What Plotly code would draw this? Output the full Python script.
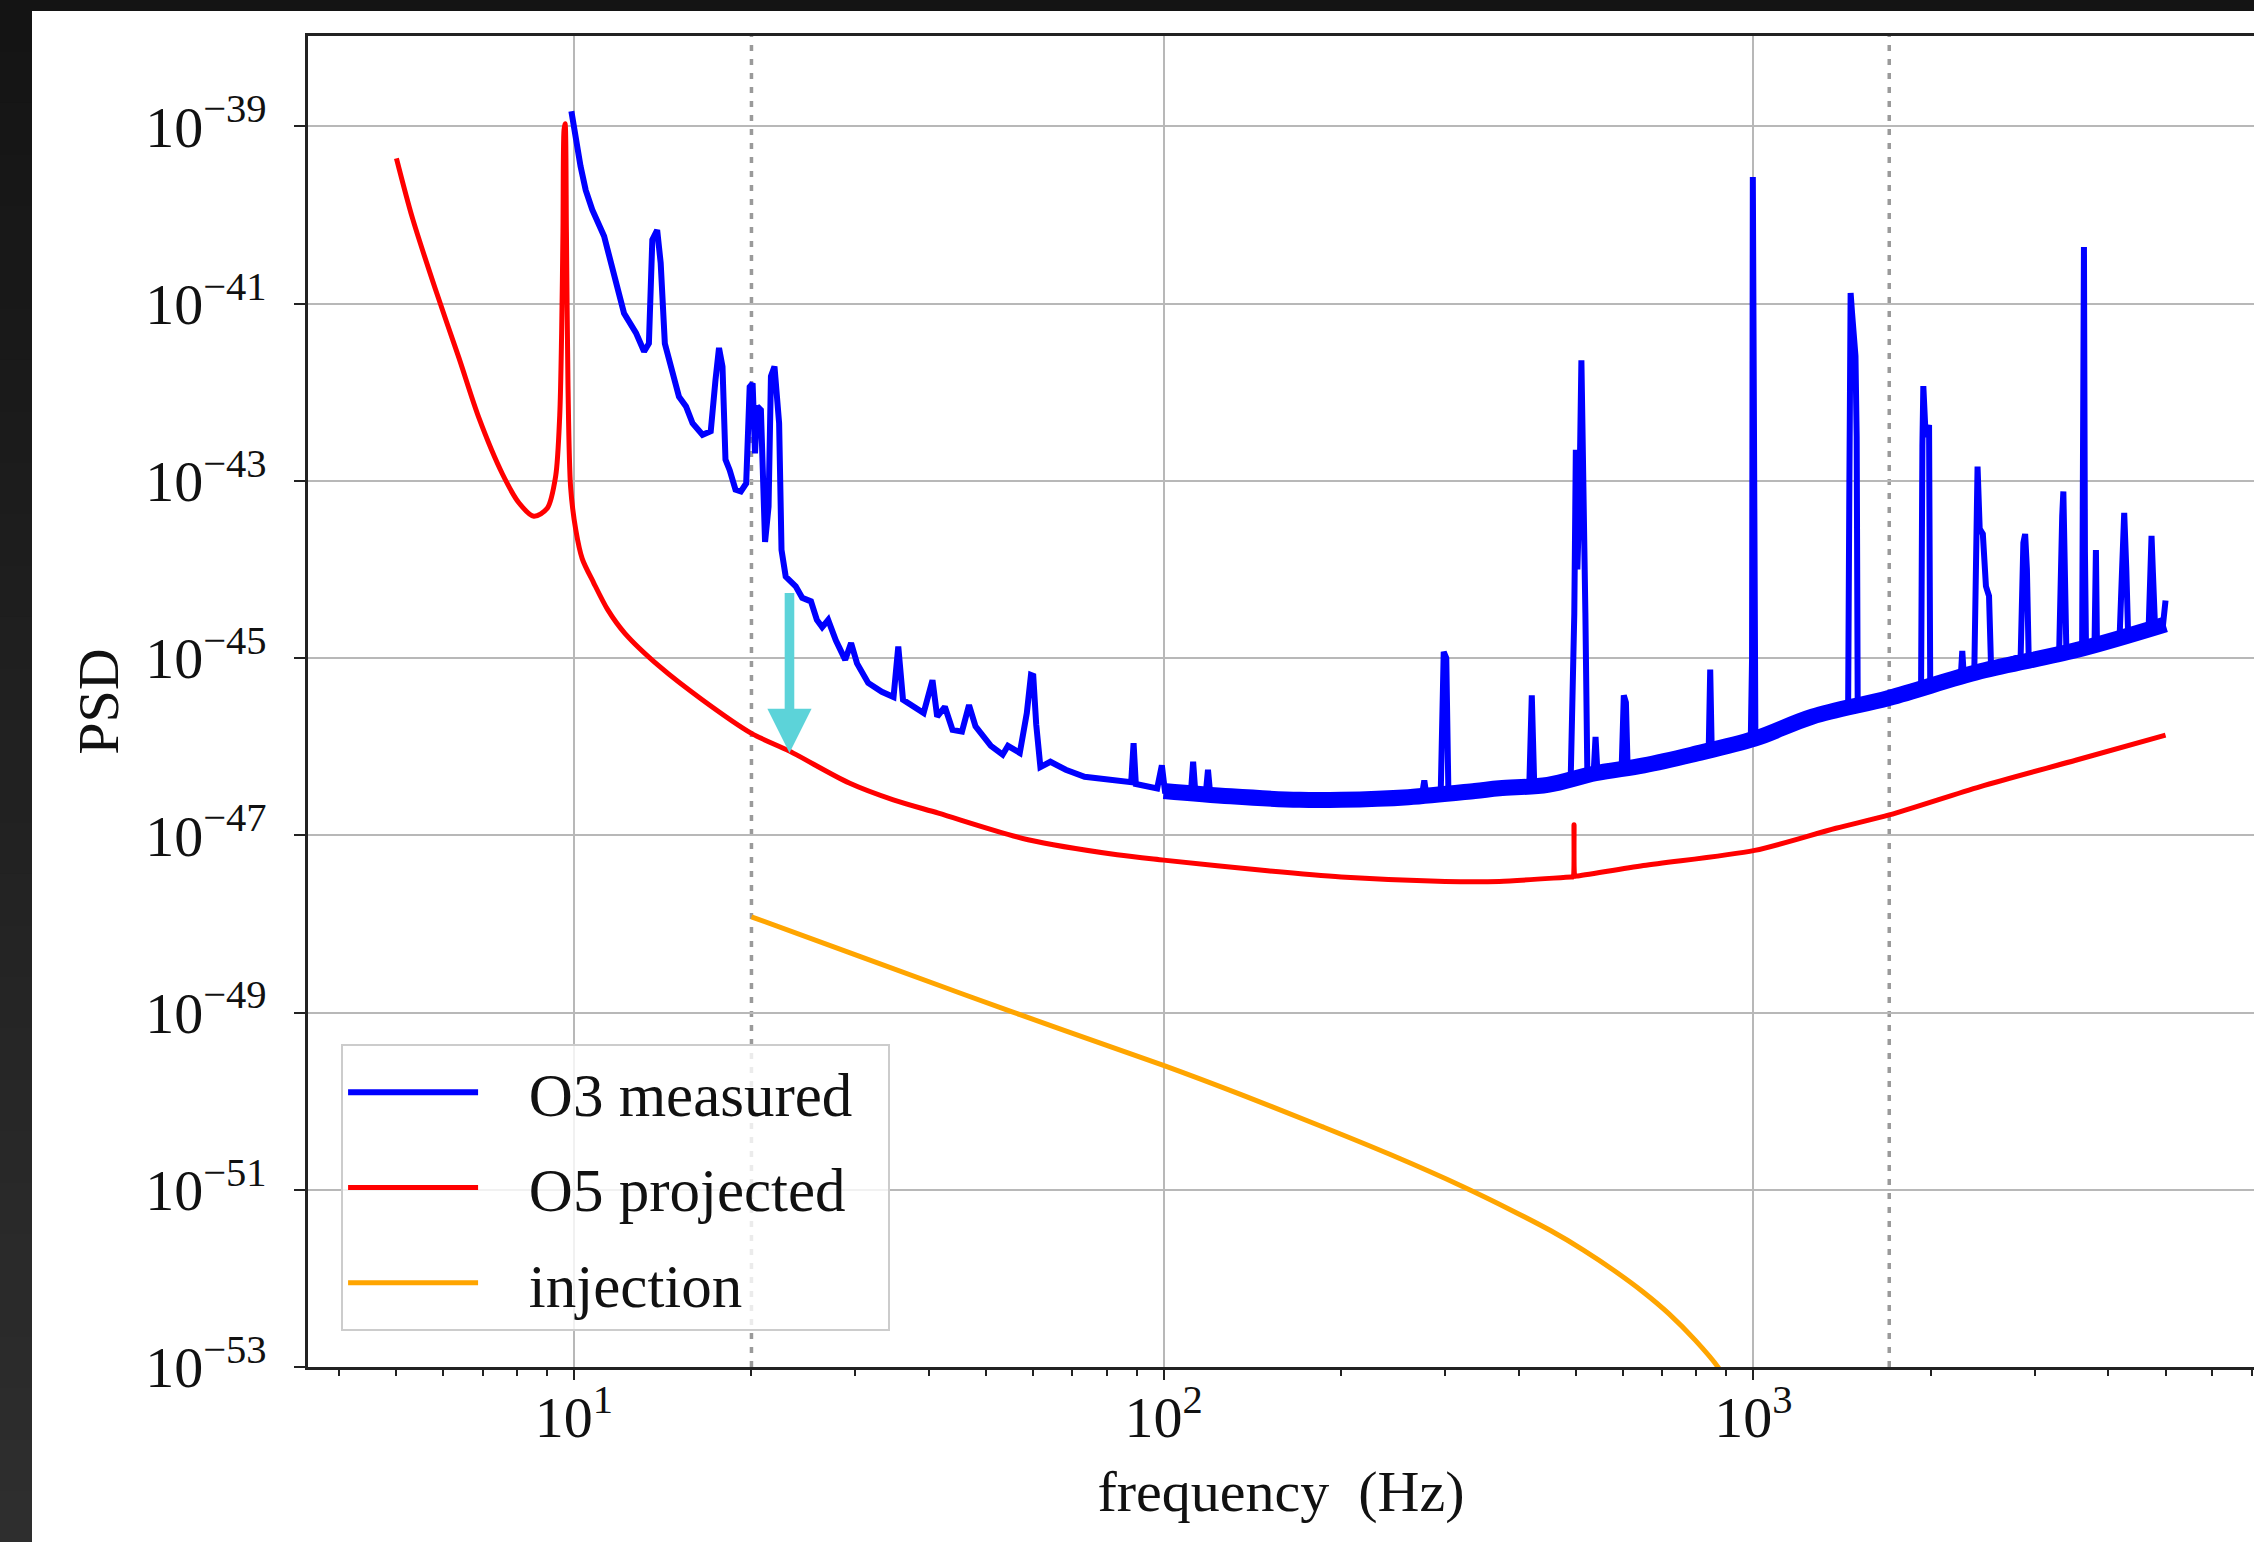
import numpy as np
import plotly.graph_objects as go

# ---------------------------------------------------------------
# Spectra: frequency in Hz, PSD given as log10 values
# ---------------------------------------------------------------
o3_freq = [
    9.90, 10.07, 10.26, 10.47, 10.74, 11.25, 11.70, 12.16, 12.74, 13.15,
    13.40, 13.58, 13.84, 14.03, 14.26, 14.69, 15.07, 15.49, 15.89, 16.52,
    17.06, 17.38, 17.62, 17.86, 18.07, 18.37, 18.79, 19.19, 19.59, 19.86,
    20.09, 20.28, 20.46, 20.75, 21.09, 21.38, 21.58, 21.88, 22.28, 22.49,
    22.86, 23.77, 24.38, 25.23, 25.82, 26.36, 26.98, 27.80, 28.84, 29.51,
    30.20, 31.55, 33.27, 34.83, 35.48, 36.14, 37.50, 39.17, 40.55, 41.30,
    42.56, 43.85, 45.50, 46.77, 47.97, 50.93, 53.33, 54.45, 57.02, 58.61,
    59.57, 60.10, 60.80, 61.80, 64.27, 68.23, 73.45, 83.37, 88.10, 88.92,
    89.70, 97.50, 99.30, 100.5, 108.4, 111.2, 112.2, 113.2, 117.8, 118.9,
    120.0, 128.8, 140.6, 167.5, 199.5, 258.8, 274.0, 276.7, 279.0, 295.0,
    298.5, 301.5, 304.0, 336.5, 367.3, 417.0, 421.0, 425.0, 444.6, 490.0,
    497.0, 500.0, 503.0, 507.0, 511.0, 515.0, 519.0, 523.0, 536.0, 540.0,
    544.0, 570.0, 598.0, 603.0, 608.0, 612.0, 651.0, 785.0, 840.0, 845.0,
    850.0, 990.0, 995.0, 998.0, 1001.0, 1004.0, 1008.0, 1259.0, 1448.0, 1455.0,
    1462.0, 1470.0, 1480.0, 1490.0, 1497.0, 1503.0, 1700.0, 1925.0, 1935.0, 1942.0,
    1960.0, 1986.0, 1995.0, 2250.0, 2261.0, 2272.0, 2370.0, 2385.0, 2400.0, 2420.0,
    2450.0, 2480.0, 2510.0, 2530.0, 2840.0, 2870.0, 2890.0, 2910.0, 2930.0, 3300.0,
    3320.0, 3340.0, 3355.0, 3375.0, 3395.0, 3610.0, 3620.0, 3636.0, 3650.0, 3665.0,
    3790.0, 3800.0, 3810.0, 3825.0, 4180.0, 4220.0, 4255.0, 4290.0, 4320.0, 4680.0,
    4720.0, 4734.0, 4760.0, 4800.0, 4950.0, 5000.0,
]
o3_log_psd = [
    -38.83, -39.15, -39.45, -39.72, -39.94, -40.24, -40.66, -41.11, -41.33, -41.54,
    -41.45, -40.28, -40.17, -40.54, -41.45, -41.79, -42.05, -42.16, -42.35, -42.48,
    -42.44, -41.86, -41.50, -41.71, -42.76, -42.88, -43.10, -43.12, -43.03, -41.94,
    -41.90, -42.69, -42.16, -42.20, -43.69, -43.29, -41.82, -41.71, -42.35, -43.78,
    -44.08, -44.19, -44.32, -44.36, -44.57, -44.65, -44.57, -44.80, -45.02, -44.83,
    -45.06, -45.28, -45.38, -45.44, -44.87, -45.47, -45.53, -45.62, -45.25, -45.66,
    -45.55, -45.81, -45.83, -45.53, -45.77, -45.99, -46.09, -45.99, -46.07, -45.62,
    -45.19, -45.20, -45.75, -46.23, -46.17, -46.26, -46.34, -46.38, -46.40, -45.96,
    -46.42, -46.47, -46.21, -46.50, -46.53, -46.53, -46.17, -46.53, -46.55, -46.26,
    -46.55, -46.56, -46.60, -46.60, -46.60, -46.56, -46.56, -46.38, -46.55, -46.53,
    -44.93, -45.00, -46.52, -46.49, -46.45, -46.42, -45.42, -46.42, -46.41, -46.38,
    -44.50, -42.65, -44.00, -43.20, -41.64, -42.80, -44.49, -46.30, -46.30, -45.89,
    -46.29, -46.25, -46.24, -45.42, -45.50, -46.23, -46.21, -46.09, -46.05, -45.13,
    -46.04, -45.93, -45.00, -39.57, -41.60, -44.50, -45.90, -45.66, -45.52, -43.00,
    -40.88, -41.10, -41.30, -41.59, -42.50, -45.50, -45.45, -45.32, -42.60, -41.93,
    -42.50, -42.37, -45.28, -45.16, -44.92, -45.15, -45.12, -43.20, -42.84, -43.54,
    -43.60, -44.19, -44.30, -45.10, -44.98, -43.70, -43.60, -44.00, -44.97, -44.95,
    -43.90, -43.40, -43.12, -44.00, -44.93, -44.88, -43.80, -40.36, -43.80, -44.86,
    -44.82, -43.90, -43.78, -44.81, -44.75, -44.00, -43.36, -44.00, -44.72, -44.68,
    -43.80, -43.62, -44.04, -44.66, -44.63, -44.35,
]

# centre of the dense noise floor of the O3 spectrum
o3_floor_freq = [100, 130, 170, 200, 260, 337, 371, 448, 540, 652,
                 786, 1005, 1259, 1698, 2427, 3532, 5000]
o3_floor_log_psd = [-46.50, -46.56, -46.60, -46.60, -46.57, -46.50, -46.47, -46.43, -46.30, -46.21,
                    -46.09, -45.91, -45.66, -45.45, -45.15, -44.91, -44.62]

o5_freq = [
    5.00, 5.32, 5.83, 6.38, 6.90, 7.56, 8.07, 8.55, 9.01, 9.31,
    9.46, 9.53, 9.58, 9.62, 9.66, 9.71, 9.77, 9.87, 10.07, 10.33,
    10.80, 11.40, 12.20, 14.00, 16.50, 20.00, 23.20, 29.30, 34.80, 41.50,
    58.90, 83.40, 100.0, 150.0, 200.0, 300.0, 371.0, 491.0, 494.0, 496.5,
    499.0, 502.0, 651.0, 1005.0, 1380.0, 1700.0, 2427.0, 3532.0, 5000.0,
]
o5_log_psd = [
    -39.36, -40.03, -40.85, -41.61, -42.29, -42.92, -43.25, -43.40, -43.31, -42.95,
    -42.26, -41.34, -40.19, -39.04, -38.97, -40.19, -41.92, -43.07, -43.55, -43.88,
    -44.15, -44.45, -44.72, -45.10, -45.47, -45.85, -46.05, -46.41, -46.60, -46.75,
    -47.05, -47.22, -47.28, -47.40, -47.47, -47.52, -47.52, -47.47, -47.47, -46.88,
    -47.46, -47.46, -47.34, -47.17, -46.92, -46.77, -46.45, -46.15, -45.87,
]

inj_freq = [20.0, 30.6, 55.2, 100.2, 135.7, 184.5, 241.8, 320.6, 388.6, 452.9,
            515.0, 586.1, 649.5, 719.5, 797.5, 873.0, 885.0]
inj_log_psd = [-47.92, -48.37, -48.99, -49.60, -49.93, -50.28, -50.60, -50.96, -51.23, -51.46,
               -51.68, -51.93, -52.15, -52.40, -52.70, -53.01, -53.08]

# axis ticks
x_tick_vals = [10, 100, 1000]
x_tick_text = ["10<sup>1</sup>", "10<sup>2</sup>", "10<sup>3</sup>"]
x_minor_vals = [4, 5, 6, 7, 8, 9, 20, 30, 40, 50, 60, 70, 80, 90,
                200, 300, 400, 500, 600, 700, 800, 900,
                2000, 3000, 4000, 5000, 6000, 7000]
y_tick_exps = [-39, -41, -43, -45, -47, -49, -51, -53]

# analysis band limits (dotted) and the improvement arrow
band_limits_hz = [20, 1700]
arrow_freq_hz = 23.2
arrow_top_log = -44.25
arrow_tip_log = -46.07

BLUE = "#0000ff"
RED = "#ff0000"
ORANGE = "#ffa500"
CYAN = "#5cd3d9"
FONT = "Liberation Serif"
TXT = "#111111"
PAD = "\u00a0\u00a0\u00a0"
TAIL = "\u00a0\u00a0"

W, H = 2254, 1542
ML, MR, MT, MB = 308, 0, 36, 175
X_RANGE = [0.549, 3.849]
Y_RANGE = [-53.0, -37.98]

fig = go.Figure()

fig.add_trace(go.Scatter(
    x=o3_floor_freq, y=10 ** np.array(o3_floor_log_psd), mode="lines",
    line=dict(color=BLUE, width=16, shape="spline", smoothing=1.0),
    showlegend=False, hoverinfo="skip", legendgroup="o3"))
fig.add_trace(go.Scatter(
    x=o3_freq, y=10 ** np.array(o3_log_psd), mode="lines",
    line=dict(color=BLUE, width=6), name=PAD + "O3 measured" + TAIL, legendgroup="o3"))
fig.add_trace(go.Scatter(
    x=o5_freq, y=10 ** np.array(o5_log_psd), mode="lines",
    line=dict(color=RED, width=5, shape="spline", smoothing=0.8),
    name=PAD + "O5 projected" + TAIL, legendgroup="o5"))
fig.add_trace(go.Scatter(
    x=inj_freq, y=10 ** np.array(inj_log_psd), mode="lines",
    line=dict(color=ORANGE, width=5, shape="spline", smoothing=1.0),
    name=PAD + "injection", legendgroup="inj"))

# dotted vertical band limits
for f in band_limits_hz:
    fig.add_shape(type="line", xref="x", yref="paper", x0=f, x1=f, y0=0, y1=1,
                  line=dict(color="#9a9a9a", width=3.5, dash="6px,8px"), layer="between")

# arrow from measured to projected sensitivity
fig.add_annotation(
    x=np.log10(arrow_freq_hz), y=arrow_tip_log, ax=np.log10(arrow_freq_hz), ay=arrow_top_log,
    xref="x", yref="y", axref="x", ayref="y", text="", showarrow=True,
    arrowhead=2, arrowsize=0.92, arrowwidth=9.6, arrowcolor=CYAN, standoff=0)

# dark frame around the figure panel
plot_w = W - ML - MR
plot_h = H - MT - MB


def px_to_paper_x(px):
    return (px - ML) / plot_w


def px_to_paper_y(py):
    return (H - MB - py) / plot_h


n_strips = 30
for i in range(n_strips):
    t = i / (n_strips - 1)
    g = int(round(20 + t * 26))
    py0 = H * i / n_strips
    py1 = H * (i + 1) / n_strips + 1
    fig.add_shape(type="rect", xref="paper", yref="paper",
                  x0=px_to_paper_x(0), x1=px_to_paper_x(32),
                  y0=px_to_paper_y(py1), y1=px_to_paper_y(py0),
                  line=dict(width=0), fillcolor=f"rgb({g},{g},{g})", layer="above")
fig.add_shape(type="rect", xref="paper", yref="paper",
              x0=px_to_paper_x(0), x1=px_to_paper_x(W),
              y0=px_to_paper_y(11), y1=px_to_paper_y(0),
              line=dict(width=0), fillcolor="#141414", layer="above")

axis_col = "#222222"
grid_col = "#b8b8b8"

fig.update_xaxes(
    type="log", range=X_RANGE,
    tickmode="array", tickvals=x_tick_vals, ticktext=x_tick_text,
    ticks="outside", ticklen=10, tickwidth=2, tickcolor=axis_col,
    ticklabelstandoff=-12,
    showline=True, linecolor=axis_col, linewidth=2.5, mirror=True,
    showgrid=True, gridcolor=grid_col, gridwidth=2, zeroline=False,
    tickfont=dict(family=FONT, size=58, color=TXT),
    title=dict(text="frequency\u00a0\u00a0(Hz)", standoff=22,
               font=dict(family=FONT, size=58, color=TXT)),
    minor=dict(tickmode="array", tickvals=x_minor_vals, ticks="outside",
               ticklen=6, tickwidth=1.5, tickcolor=axis_col, showgrid=False),
)
fig.update_yaxes(
    type="log", range=Y_RANGE,
    tickmode="array", tickvals=[10.0 ** e for e in y_tick_exps],
    ticktext=[f"10<sup>\u2212{-e}</sup>" for e in y_tick_exps],
    ticks="outside", ticklen=11, tickwidth=2, tickcolor=axis_col,
    ticklabelstandoff=16,
    showline=True, linecolor=axis_col, linewidth=2.5, mirror=False,
    showgrid=True, gridcolor=grid_col, gridwidth=2, zeroline=False,
    tickfont=dict(family=FONT, size=58, color=TXT),
    title=dict(text="PSD", standoff=8, font=dict(family=FONT, size=58, color=TXT)),
)

fig.update_layout(
    width=W, height=H,
    margin=dict(l=ML, r=MR, t=MT, b=MB, pad=0),
    paper_bgcolor="white", plot_bgcolor="white",
    font=dict(family=FONT, size=58, color=TXT),
    legend=dict(
        x=0.017, y=0.027, xanchor="left", yanchor="bottom",
        bgcolor="rgba(255,255,255,0.8)", bordercolor="#cccccc", borderwidth=2,
        font=dict(family=FONT, size=61, color=TXT),
        itemwidth=130, tracegroupgap=13, traceorder="grouped",
    ),
)

fig.write_html("out.html")
